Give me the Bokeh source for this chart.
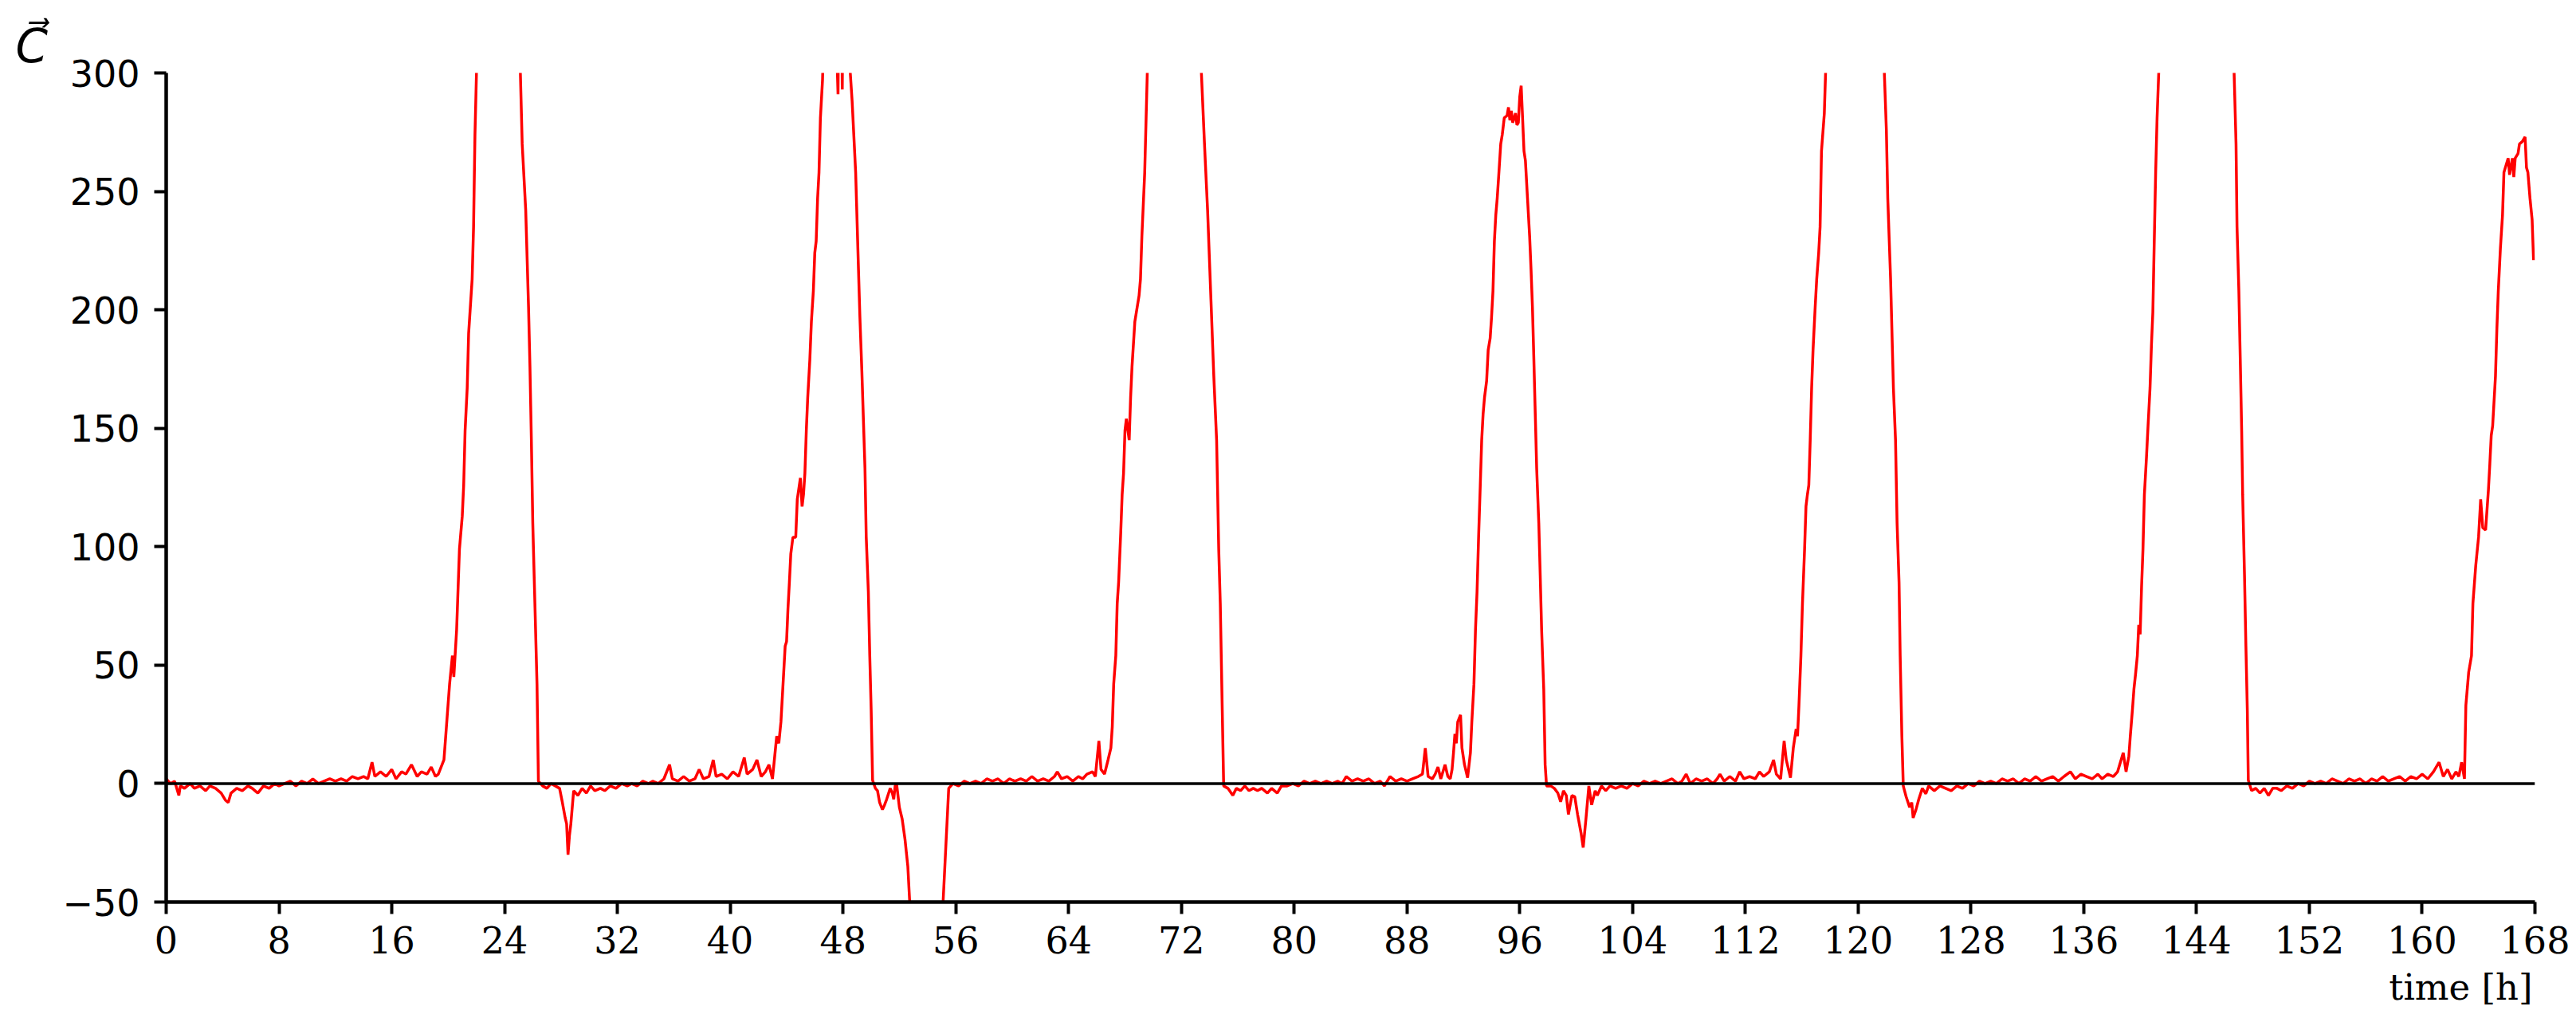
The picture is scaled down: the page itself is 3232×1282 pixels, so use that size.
from bokeh.plotting import figure
from bokeh.models import Range1d, FixedTicker, Span, Title, ColumnDataSource
from bokeh.embed import file_html
from bokeh.resources import INLINE

# ---- data (hours, C value) ----
seg1_t = [0, 0.3, 0.6, 0.9, 1.0, 1.3, 1.7, 2.0, 2.4, 2.8, 3.1, 3.5, 3.9, 4.2, 4.4, 4.6, 5.0, 5.4, 5.8, 6.1,
          6.5, 6.9, 7.3, 7.7, 8.0, 8.4, 8.8, 9.2, 9.6, 10.0, 10.4, 10.8, 11.2, 11.6, 12.0, 12.4, 12.8, 13.2,
          13.6, 14.0, 14.3, 14.6, 14.8, 15.2, 15.6, 16.0, 16.3, 16.7, 17.0, 17.4, 17.8, 18.1, 18.5, 18.8,
          19.1, 19.3]
seg1_c = [2, 0, 1, -5, -1, -2, 0, -2, -1, -3, -1, -2, -4, -7, -8, -4, -2, -3, -1, -2,
          -4, -1, -2, 0, -1, 0, 1, -1, 1, 0, 2, 0, 1, 2, 1, 2, 1, 3,
          2, 3, 2, 9, 3, 5, 3, 6, 2, 5, 4, 8, 3, 5, 4, 7,
          3, 4]

seg2_t = [19.5, 19.7, 19.85, 20.1, 20.3, 20.4, 20.6, 20.8, 21.0, 21.1, 21.2, 21.35, 21.45, 21.7, 21.8, 21.9,
          22.5, 23.5, 24.6, 25.25, 25.5, 25.7, 25.8, 25.9, 26.0, 26.15, 26.3, 26.4, 26.7, 27.0, 27.3, 27.6,
          27.9, 28.1, 28.3, 28.4, 28.5, 28.6, 28.7, 28.9, 29.2, 29.5, 29.8, 30.1, 30.4, 30.8, 31.1, 31.5,
          31.9, 32.3, 32.7, 33.0, 33.4, 33.8, 34.2, 34.5, 34.9, 35.3, 35.7, 35.9, 36.3, 36.7, 37.1, 37.5,
          37.8, 38.1, 38.5, 38.8, 39.0, 39.4, 39.8, 40.2, 40.6, 41.0, 41.2, 41.6, 41.9, 42.2, 42.5, 42.75,
          43.0]
seg2_c = [7, 10, 22, 42, 54, 45, 65, 99, 113, 126, 149, 167, 190, 213, 235, 274,
          420, 520, 420, 270, 242, 201, 176, 145, 110, 76, 42, 1, -1, -2, 0, -1,
          -2, -8, -14.5, -17, -30, -22, -17, -3, -5, -2, -4, -1, -3, -2, -3, -1,
          -2, 0, -1, 0, -1, 1, 0, 1, 0, 2, 8, 2, 1, 3, 1, 2,
          6, 2, 3, 10, 3, 4, 2, 5, 3, 11, 4, 6, 10, 3, 5, 8,
          2]

seg3_t = [43.3, 43.45, 43.6, 43.75, 43.9, 44.0, 44.1, 44.2, 44.3, 44.45, 44.65, 44.76, 44.98, 45.1, 45.2,
          45.3, 45.4, 45.5, 45.65, 45.76, 45.9, 46.0, 46.1, 46.2, 46.3, 46.4, 46.55, 46.9, 47.3, 47.65,
          47.7, 47.9, 47.95, 48.0, 48.3, 48.65, 48.9, 49.1, 49.2, 49.34, 49.56, 49.65, 49.8, 49.9, 50.0,
          50.1, 50.3, 50.45, 50.6, 50.8, 50.95, 51.1, 51.35, 51.5, 51.6, 51.7, 51.8, 51.9, 52.0, 52.2,
          52.4, 52.6, 52.75, 53.2, 54.0, 54.7, 55.1, 55.3, 55.5, 55.8, 56.2, 56.6, 57.0, 57.4, 57.8, 58.2,
          58.6, 59.0, 59.4, 59.8, 60.2, 60.6, 61.0, 61.4, 61.8, 62.2, 62.6, 63.0, 63.2, 63.5, 63.9, 64.3,
          64.7, 65.0, 65.3, 65.7, 65.9, 66.15, 66.3, 66.55, 66.8]
seg3_c = [20, 17, 26, 42, 58, 60, 74, 85, 97, 104, 104, 120, 129, 117, 122,
          131, 149, 163, 179, 195, 208, 224, 229, 247, 258, 281, 297, 380, 360, 291,
          330, 330, 293, 330, 320, 288, 258, 217, 197, 174, 133, 104, 81, 54, 31,
          1.4, -2, -3, -8, -11, -9, -6.6, -2, -4, -6.6, -1, 0, -5, -10, -15,
          -23.6, -35, -52, -75, -85, -70, -50, -26, -2, 0, -1, 1, 0, 1, 0, 2,
          1, 2, 0, 2, 1, 2, 1, 3, 1, 2, 1, 3, 5, 2, 3, 1,
          3, 2, 4, 5, 3, 18, 6, 4, 10]

seg4_t = [67.0, 67.1, 67.2, 67.35, 67.45, 67.55, 67.7, 67.8, 67.9, 68.0, 68.1, 68.3, 68.4, 68.5, 68.7,
          69.0, 69.1, 69.2, 69.4, 69.5, 69.8, 71.0, 72.5, 73.2, 73.64, 73.86, 74.1, 74.3, 74.5, 74.65,
          74.76, 74.9, 75.0, 75.3, 75.65, 75.9, 76.2, 76.5, 76.8, 77.1, 77.4, 77.7, 78.1, 78.4, 78.8,
          79.1, 79.5, 79.9, 80.3, 80.7, 81.1, 81.5, 81.9, 82.3, 82.7, 83.1, 83.4, 83.7, 84.1, 84.5, 84.9,
          85.3, 85.7, 86.1, 86.4, 86.8, 87.2, 87.6, 88.0, 88.4, 88.8, 89.1, 89.3, 89.5, 89.8, 90.0, 90.2,
          90.4, 90.7, 90.9, 91.07, 91.2, 91.3, 91.4, 91.5, 91.6, 91.8, 91.9, 92.08, 92.3]
seg4_c = [15, 24, 42, 54, 76, 85, 106, 122, 131, 149, 154, 145, 163, 176, 195,
          206, 213, 231, 258, 281, 350, 480, 450, 330, 270, 242, 204, 172, 145, 99,
          76, 31, -1, -2, -5, -2, -3, -1, -3, -2, -3, -2, -4, -2, -4,
          -1, -1, 0, -1, 1, 0, 1, 0, 1, 0, 1, 0, 3, 1, 2, 1,
          2, 0, 1, -1, 3, 1, 2, 1, 2, 3, 4, 15, 3, 2, 4, 7,
          2, 8, 3, 2, 6, 13, 21, 17, 26, 29, 15, 8, 2.5]

seg5_t = [92.5, 92.6, 92.75, 92.86, 92.97, 93.08, 93.2, 93.3, 93.4, 93.5, 93.65, 93.76, 93.9, 94.0, 94.1,
          94.2, 94.3, 94.4, 94.5, 94.65, 94.76, 94.9, 95.1, 95.2, 95.3, 95.4, 95.5, 95.6, 95.7, 95.8,
          95.9, 96.0, 96.1, 96.2, 96.3, 96.4, 96.55, 96.7, 96.8, 96.9, 97.0, 97.1, 97.2, 97.35, 97.45,
          97.55, 97.7, 97.8, 97.9, 98.2, 98.45, 98.7, 98.9, 99.1, 99.3, 99.45, 99.7, 99.9, 100.1, 100.35,
          100.5, 100.7, 100.9, 101.1, 101.35, 101.5, 101.8, 102.1, 102.4, 102.8, 103.2, 103.6, 104.0,
          104.4, 104.8, 105.2, 105.6, 106.0, 106.4, 106.8, 107.2, 107.5, 107.8, 108.1, 108.5, 108.9,
          109.3, 109.7, 110.0, 110.2, 110.5, 110.9, 111.3, 111.6, 111.9, 112.3, 112.7, 113.0, 113.3,
          113.7, 114.0, 114.2, 114.5, 114.75, 114.9, 115.2, 115.4]
seg5_c = [13, 26, 42, 65, 81, 104, 126, 145, 156, 163, 170, 183, 188, 197, 208,
          229, 240, 247, 256, 270, 274, 281, 282, 285.5, 280, 284, 279, 281, 283, 278,
          279, 290, 294.6, 281, 267, 263, 247, 231, 217, 201, 179, 156, 133, 110, 88,
          65, 40, 8, -1, -1, -2, -4, -7.7, -3, -5, -13, -5, -5.5, -13, -21,
          -27, -14.5, -1, -9, -3, -5, -1, -3, -1, -2, -1, -2, 0,
          -1, 1, 0, 1, 0, 1, 2, 0, 1, 4, 0, 2, 1,
          2, 0, 2, 4, 1, 3, 1, 5, 2, 3, 2, 5, 3,
          5, 10, 4, 2, 18, 10, 2.5, 15]

seg6_t = [115.6, 115.7, 115.8, 115.94, 116.05, 116.2, 116.3, 116.4, 116.5, 116.6, 116.7, 116.8, 116.95,
          117.06, 117.2, 117.3, 117.4, 117.6, 117.9, 119.0, 120.5, 121.5, 122.0, 122.1, 122.3, 122.4,
          122.5, 122.65, 122.76, 122.9, 122.98, 123.1, 123.2, 123.4, 123.65, 123.8, 123.9, 124.1, 124.3,
          124.55, 124.8, 125.0, 125.4, 125.8, 126.2, 126.6, 127.0, 127.4, 127.8, 128.2, 128.6, 129.0,
          129.4, 129.8, 130.2, 130.6, 131.0, 131.4, 131.8, 132.2, 132.6, 133.0, 133.4, 133.8, 134.2,
          134.6, 135.05, 135.4, 135.8, 136.2, 136.6, 137.0, 137.3, 137.7, 138.1, 138.4, 138.8, 139.0,
          139.2]
seg6_c = [23, 20, 33, 54, 76, 99, 117, 122, 126, 145, 167, 183, 201,
          213, 224, 235, 267, 283, 340, 470, 460, 360, 276, 247, 213, 190,
          167, 145, 110, 85, 54, 20, -1, -5.5, -10, -8, -14.5, -11, -6.6,
          -2, -4.3, -1, -3, -1, -2, -3, -1, -2, 0, -1, 1, 0,
          1, 0, 2, 1, 2, 0, 2, 1, 3, 1, 2, 3, 1,
          3, 5, 2, 4, 3, 2, 4, 2, 4, 3, 5, 13, 5,
          11.6]

seg7_t = [139.3, 139.45, 139.56, 139.67, 139.8, 139.9, 140.0, 140.1, 140.2, 140.3, 140.45, 140.56, 140.7,
          140.8, 140.9, 141.0, 141.1, 141.2, 141.5, 143.0, 145.0, 146.3, 146.8, 146.87, 147.0, 147.1,
          147.2, 147.27, 147.4, 147.5, 147.6, 147.67, 147.9, 148.2, 148.5, 148.8, 149.1, 149.4, 149.7,
          150.0, 150.4, 150.8, 151.2, 151.6, 152.0, 152.4, 152.8, 153.2, 153.6, 154.0, 154.4, 154.8,
          155.2, 155.6, 156.0, 156.4, 156.8, 157.2, 157.6, 158.0, 158.4, 158.8, 159.2, 159.6, 160.0,
          160.4, 160.8, 161.2, 161.5, 161.8, 162.1, 162.4, 162.6, 162.8, 163.0, 163.1, 163.3, 163.5,
          163.6, 163.8, 164.0, 164.15, 164.3, 164.5, 164.7, 164.8, 164.9, 165.0, 165.2, 165.3, 165.4,
          165.55, 165.7, 165.8, 165.9, 166.1, 166.2, 166.4, 166.5, 166.6, 166.8, 166.9, 167.1, 167.3,
          167.4, 167.5, 167.65, 167.8, 167.9]
seg7_c = [20, 31, 40, 46, 54, 67, 63, 83, 99, 122, 138, 151, 167,
          185, 199, 229, 258, 281, 330, 480, 500, 380, 270, 235, 208, 179,
          149, 122, 88, 58, 31, 1.4, -3, -2, -4, -2, -5, -2, -2,
          -3, -1, -2, 0, -1, 1, 0, 1, 0, 2, 1, 0, 2,
          1, 2, 0, 2, 1, 3, 1, 2, 3, 1, 3, 2, 4,
          2, 5, 9, 3, 6, 2, 5, 3, 9, 2, 33, 47, 54,
          76, 92, 104, 120, 108, 107, 124, 135, 147, 151, 172, 192, 208,
          226, 240, 258, 260, 264, 257, 264, 256, 264, 266, 270, 271, 273,
          260, 258, 247, 238, 221]

x_ticks = [0, 8, 16, 24, 32, 40, 48, 56, 64, 72, 80, 88, 96, 104, 112, 120, 128, 136, 144, 152, 160, 168]
y_ticks = [-50, 0, 50, 100, 150, 200, 250, 300]
y_label = "C\u20d7"
x_label = "time [h]"

t = seg1_t + seg2_t + seg3_t + seg4_t + seg5_t + seg6_t + seg7_t
c = seg1_c + seg2_c + seg3_c + seg4_c + seg5_c + seg6_c + seg7_c
src = ColumnDataSource(data=dict(t=t, c=c))

p = figure(width=3226, height=1278, output_backend="svg", toolbar_location=None,
           x_range=Range1d(0, 168), y_range=Range1d(-50, 300),
           min_border_left=208, min_border_right=46, min_border_top=91, min_border_bottom=147)
p.background_fill_color = "white"
p.border_fill_color = "white"
p.outline_line_color = None
p.grid.visible = False

p.line("t", "c", source=src, line_color="#ff0000", line_width=3.5)
p.add_layout(Span(location=0, dimension="width", line_color="black", line_width=3.5))

for ax in (p.xaxis[0], p.yaxis[0]):
    ax.axis_line_width = 4.5
    ax.axis_line_color = "black"
    ax.major_tick_line_width = 4
    ax.major_tick_line_color = "black"
    ax.major_tick_out = 15
    ax.major_tick_in = 0
    ax.minor_tick_line_color = None
    ax.major_label_text_font_size = "46px"
    ax.major_label_text_color = "black"

p.xaxis.major_label_text_font = "DejaVu Serif"
p.yaxis.major_label_text_font = "DejaVu Sans"
p.xaxis.ticker = FixedTicker(ticks=x_ticks)
p.yaxis.ticker = FixedTicker(ticks=y_ticks)
p.xaxis.major_label_standoff = 15
p.yaxis.major_label_standoff = 18
p.yaxis.major_label_overrides = {-50: "\u221250"}

p.add_layout(Title(text=x_label, align="right", offset=3, standoff=23,
                   text_font="DejaVu Serif", text_font_size="45px", text_font_style="normal",
                   text_color="black"), "below")
p.add_layout(Title(text=y_label, align="left", offset=-189, standoff=0,
                   text_font="DejaVu Sans", text_font_size="58px", text_font_style="italic",
                   text_color="black"), "above")

open("out.html", "w").write(file_html(p, INLINE))
